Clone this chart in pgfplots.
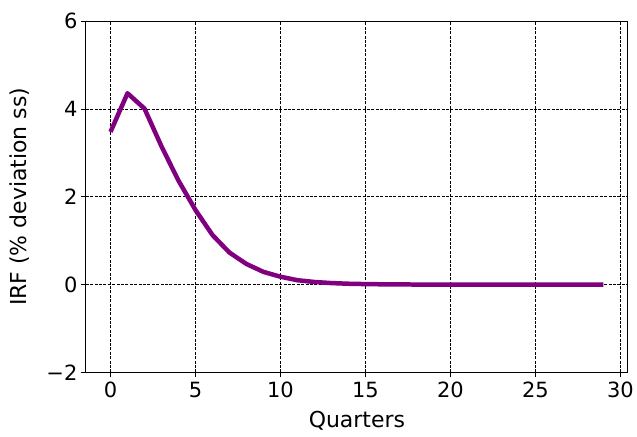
\documentclass[border=0pt]{standalone}
\usepackage{fontspec}
\setmainfont{DejaVu Sans}
\usepackage{pgfplots}
\pgfplotsset{compat=1.18}
\begin{document}
\begin{tikzpicture}[x=1pt,y=1pt]
\begin{axis}[
  at={(0,0)}, anchor=south west,
  scale only axis, width=543pt, height=351.7pt,
  xmin=-1.45, xmax=30.45, ymin=-2, ymax=6,
  xtick={0,5,10,15,20,25,30},
  ytick={-2,0,2,4,6},
  yticklabels={−2,0,2,4,6},
  /pgf/number format/assume math mode=true,
  tick align=outside, tick pos=left,
  major tick length=5pt,
  every tick/.style={black, line width=0.9pt},
  axis line style={line width=1pt},
  grid=major,
  major grid style={black, line width=0.8pt, dash pattern=on 3pt off 1.4pt},
  ticklabel style={font=\fontsize{21}{24}\selectfont},
  label style={font=\fontsize{22}{26}\selectfont},
  xlabel={Quarters}, ylabel={IRF (\% deviation ss)},
  xticklabel style={yshift=-1pt},
  xlabel style={yshift=-7pt},
  ylabel style={yshift=10pt},
]
\addplot[color={rgb,255:red,128;green,0;blue,128}, line width=4.5pt, line join=round] coordinates {
(0,3.48) (1,4.36) (2,4.01) (3,3.15) (4,2.37) (5,1.70) (6,1.13) (7,0.73) (8,0.47) (9,0.29) (10,0.18)
(11,0.10) (12,0.06) (13,0.035) (14,0.02) (15,0.012) (16,0.007) (17,0.004) (18,0.002) (19,0.001)
(20,0) (21,0) (22,0) (23,0) (24,0) (25,0) (26,0) (27,0) (28,0) (29,0)
};
\end{axis}
\path[use as bounding box] (-86,-64) rectangle (551,373);
\end{tikzpicture}
\end{document}
